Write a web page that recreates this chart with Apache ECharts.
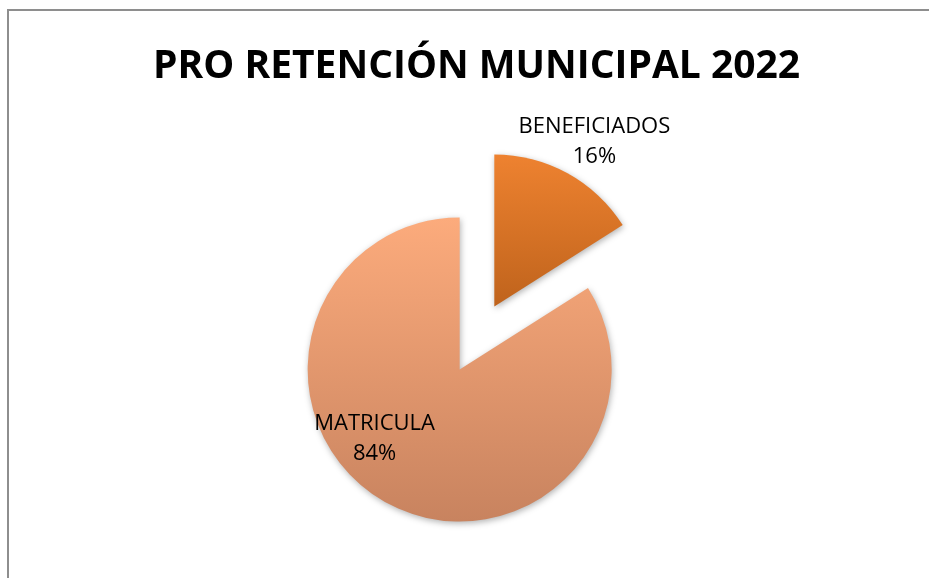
<!DOCTYPE html>
<html>
<head>
<meta charset="utf-8">
<script src="https://cdn.jsdelivr.net/npm/echarts@6/dist/echarts.min.js"></script>
<style>
  html, body { margin: 0; padding: 0; background: #fff; }
  #frame {
    position: absolute; left: 7px; top: 9px; width: 940px; height: 600px;
    border-top: 2px solid #8e8e8e; border-left: 2px solid #8e8e8e;
  }
  #main { position: absolute; left: 0; top: 0; width: 929px; height: 578px; }
</style>
</head>
<body>
<div id="frame"></div>
<div id="main"></div>
<script>
const titleText = 'PRO RETENCIÓN MUNICIPAL 2022'
const categories = ['BENEFICIADOS', 'MATRICULA']
const values = [16, 84]

// degradados verticales tipo Excel
const fills = [
  ['#ee8230', '#bf631c'],
  ['#fcab7c', '#c8835f'],
]
// desplazamiento de cada etiqueta respecto a su posición interior
const labelShift = [[62, -95], [-47, 0]]

const chart = echarts.init(document.getElementById('main'))

const data = categories.map((name, i) => ({
  name,
  value: values[i],
  selected: true,
  itemStyle: {
    color: new echarts.graphic.LinearGradient(0, 0, 0, 1, [
      { offset: 0, color: fills[i][0] },
      { offset: 1, color: fills[i][1] },
    ]),
  },
}))

chart.setOption({
  animation: false,
  title: {
    text: titleText,
    left: 148,
    top: 42,
    textStyle: {
      fontFamily: 'Open Sans',
      fontWeight: 'bold',
      fontSize: 39,
      color: '#000',
    },
  },
  series: [{
    type: 'pie',
    center: [477, 338],
    radius: 152,
    startAngle: 90,
    clockwise: true,
    selectedMode: 'multiple',
    selectedOffset: 36,
    emphasis: { disabled: true },
    itemStyle: {
      shadowBlur: 6,
      shadowColor: 'rgba(0,0,0,0.3)',
      shadowOffsetX: 1,
      shadowOffsetY: 2,
    },
    label: {
      show: true,
      position: 'inside',
      formatter: (p) => p.name + '\n' + Math.round(p.percent) + '%',
      fontFamily: 'Open Sans',
      fontSize: 22,
      lineHeight: 30,
      color: '#000',
      align: 'center',
    },
    labelLine: { show: false },
    labelLayout: (p) => ({ dx: labelShift[p.dataIndex][0], dy: labelShift[p.dataIndex][1] }),
    data,
  }],
})
</script>
</body>
</html>
